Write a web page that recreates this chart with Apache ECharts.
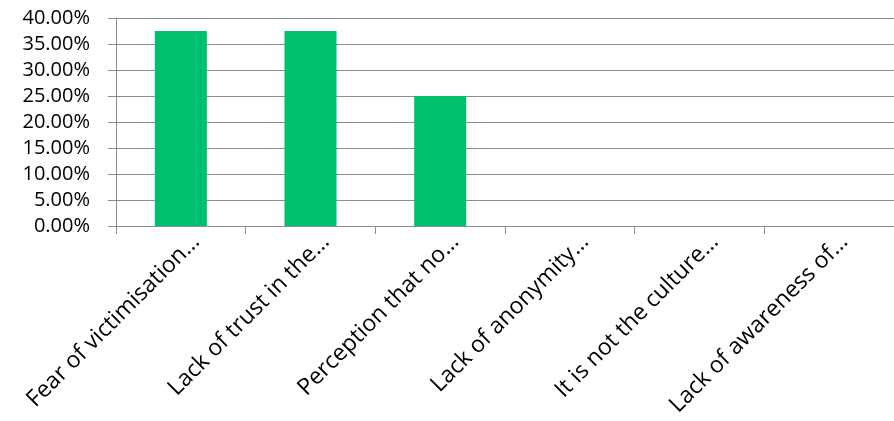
<!DOCTYPE html>
<html>
<head>
<meta charset="utf-8">
<script src="https://cdn.jsdelivr.net/npm/echarts@6/dist/echarts.min.js"></script>
<style>
  html, body { margin: 0; padding: 0; background: #ffffff; }
  #chart { width: 894px; height: 421px; }
</style>
</head>
<body>
<div id="chart"></div>
<script>
// Reasons given for not reporting
const categories = [
  'Fear of victimisation…',
  'Lack of trust in the…',
  'Perception that no…',
  'Lack of anonymity…',
  'It is not the culture…',
  'Lack of awareness of…'
];
const shares = [0.375, 0.375, 0.25, 0, 0, 0];
const yMin = 0;
const yMax = 0.4;
const yStep = 0.05;

const gridGray = '#8c8c8c';
const barGreen = '#00bf6f';
const font = 'Open Sans';

const chart = echarts.init(document.getElementById('chart'), null, { renderer: 'canvas' });
chart.setOption({
  animation: false,
  backgroundColor: '#ffffff',
  grid: { left: 116, top: 18, width: 782, bottom: 195, containLabel: false },
  xAxis: {
    type: 'category',
    data: categories,
    boundaryGap: true,
    axisLine: { show: true, lineStyle: { color: gridGray, width: 1 } },
    axisTick: { show: true, length: 8, lineStyle: { color: gridGray, width: 1 } },
    axisLabel: {
      interval: 0,
      rotate: 45,
      margin: -3,
      padding: [10, 0, 0, 0],
      verticalAlign: 'top',
      color: '#000000',
      fontFamily: font,
      fontSize: 23
    },
    splitLine: { show: false }
  },
  yAxis: {
    type: 'value',
    min: yMin,
    max: yMax,
    interval: yStep,
    axisLine: { show: true, lineStyle: { color: gridGray, width: 1 } },
    axisTick: { show: true, length: 8, lineStyle: { color: gridGray, width: 1 } },
    axisLabel: {
      margin: 26,
      color: '#000000',
      fontFamily: font,
      fontSize: 20,
      formatter: v => (v * 100).toFixed(2) + '%'
    },
    splitLine: { show: true, lineStyle: { color: gridGray, width: 1 } }
  },
  series: [{
    type: 'bar',
    data: shares,
    barWidth: 52,
    itemStyle: { color: barGreen }
  }]
});
</script>
</body>
</html>
